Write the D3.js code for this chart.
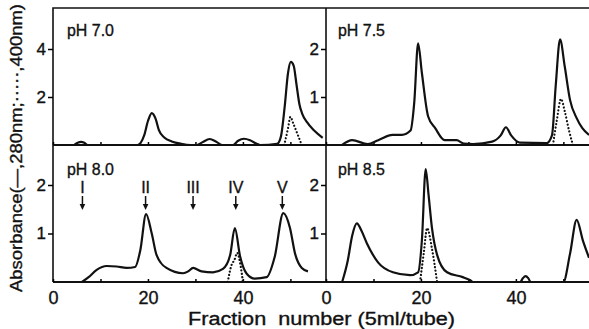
<!DOCTYPE html>
<html>
<head>
<meta charset="utf-8">
<script src="https://cdn.jsdelivr.net/npm/d3@7"></script>
<style>
body { margin: 0; background: #fff; }
text { font-family: "Liberation Sans", Arial, sans-serif; fill: #111; stroke: #111; stroke-width: 0.35px; }
</style>
</head>
<body>
<svg id="chart" width="589" height="329"></svg>
<script>
// DATA ------------------------------------
// [fraction, absorbance]
const ph70_280 = [[4.5,0],[5.2,0.09],[5.9,0.13],[6.6,0.09],[7.3,0],[17.8,0],[19.2,0.4],[20,1.0],[20.8,1.33],[21.6,1.1],[22.3,0.62],[23.5,0.3],[25,0.15],[27,0.05],[29,0],[30.3,0],[31.5,0.12],[33,0.25],[34.3,0.15],[35.6,0],[37.9,0],[39,0.18],[40.2,0.26],[41.5,0.2],[42.8,0.06],[43.6,0],[47.2,0.05],[48,0.35],[48.8,1.6],[49.5,3.0],[50.1,3.46],[50.7,3.3],[51.3,2.5],[51.9,1.7],[52.5,1.3],[53.5,0.95],[55,0.6],[56.8,0.3]]
const ph70_400 = [[48.7,0],[49.5,0.7],[50,1.17],[50.6,0.9],[51.5,0.45],[52.4,0]]

const ph75_280 = [[3.4,0],[5.5,0.1],[8.8,0.02],[11,0.1],[14,0.21],[16,0.21],[17.8,0.3],[18.6,0.9],[19.4,2.12],[20.2,1.5],[21.5,0.6],[23,0.35],[25,0.1],[27.5,0.1],[29,0.03],[31,0.02],[35,0.07],[36.8,0.2],[37.9,0.37],[39,0.2],[40.8,0.05],[46.5,0.04],[47.6,0.2],[48.4,1.25],[49.3,2.2],[50.3,1.63],[51.4,0.94],[52.8,0.56],[54,0.35],[55.4,0.21]]
const ph75_400 = [[47.8,0],[48.6,0.5],[49.5,0.96],[50.3,0.7],[51.2,0.3],[52,0]]

const ph80_280 = [[6.1,0],[7.5,0.1],[9.2,0.25],[11.3,0.33],[13.4,0.32],[15.5,0.29],[17.3,0.31],[18.4,0.66],[19.6,1.4],[20.8,1.0],[21.8,0.56],[23.9,0.29],[27.4,0.18],[28.5,0.22],[29.5,0.29],[31.3,0.22],[33.7,0.2],[35.8,0.27],[37.3,0.55],[38.3,1.11],[39.4,0.53],[40.8,0.17],[42.5,0.07],[45,0.1],[46.7,0.52],[48.5,1.42],[49.9,1.12],[51,0.58],[52.4,0.29],[53.7,0.22]]
const ph80_400 = [[36.8,0],[37.6,0.35],[38.2,0.45],[38.8,0.6],[39.4,0.4],[40,0]]

const ph85_280 = [[3.4,0],[4.6,0.45],[5.5,0.95],[6.5,1.21],[7.5,1.05],[8.6,0.8],[11,0.4],[14.1,0.2],[17.7,0.14],[19.4,0.2],[20.2,0.86],[21,2.33],[21.6,1.8],[22.3,1.13],[23.4,0.56],[25.5,0.2],[28.8,0.1],[30.3,0.04],[31,0],[40.9,0],[41.5,0.08],[42,0.12],[42.6,0.08],[43.1,0],[50,0],[51.4,0.58],[52.8,1.28],[54.1,0.86],[55.4,0.5]]
const ph85_400 = [[19.8,0],[20.6,0.6],[21.3,1.11],[22.3,0.7],[23.4,0]]

const romanLabels = ["I", "II", "III", "IV", "V"]
const romanFrac = [6.2, 19.5, 29.5, 38.5, 48.3]

const xTicks = [0, 10, 20, 30, 40, 50]
const xLabelled = [0, 20, 40]

// CHART INIT ------------------------------
const svg = d3.select("#chart")

const xLeft = d3.scaleLinear().domain([0, 57.5]).range([53, 326])
const xRight = d3.scaleLinear().domain([0, 55.4]).range([326, 589])
const yTopL = d3.scaleLinear().domain([0, 4]).range([145, 49])
const yTopR = d3.scaleLinear().domain([0, 2]).range([145, 49])
const yBot = d3.scaleLinear().domain([0, 2]).range([282, 185])

const panels = [
	{name: "pH 7.0", x: xLeft, y: yTopL, solid: ph70_280, dots: ph70_400, yTicks: [2, 4], base: 145, bottom: false},
	{name: "pH 7.5", x: xRight, y: yTopR, solid: ph75_280, dots: ph75_400, yTicks: [1, 2], base: 145, bottom: false},
	{name: "pH 8.0", x: xLeft, y: yBot, solid: ph80_280, dots: ph80_400, yTicks: [1, 2], base: 282, bottom: true},
	{name: "pH 8.5", x: xRight, y: yBot, solid: ph85_280, dots: ph85_400, yTicks: [1, 2], base: 282, bottom: true}
]

// frame
const frame = svg.append("g").attr("stroke", "#111").attr("fill", "none")
frame.append("path").attr("stroke-width", 1.6)
	.attr("d", "M53,282 V8 H589 M326,8 V282")
frame.append("path").attr("stroke-width", 2)
	.attr("d", "M53,145 H589 M53,282 H589")

panels.forEach(p => {
	let g = svg.append("g")

	// y axis
	let yAxis = d3.axisLeft(p.y).tickValues(p.yTicks).tickSize(5).tickPadding(2).tickFormat(d3.format("d"))
	g.append("g")
		.attr("transform", `translate(${p.x.range()[0]},0)`)
		.call(yAxis)
		.call(a => a.select(".domain").remove())
		.call(a => a.selectAll("line").attr("stroke-width", 1.5))
		.call(a => a.selectAll("text").attr("font-size", 17).attr("font-family", "Liberation Sans").attr("fill", "#111"))

	// x axis (ticks point up into the panel)
	let xAxis = d3.axisBottom(p.x).tickValues(xTicks).tickSizeInner(-3).tickSizeOuter(0).tickPadding(9)
		.tickFormat(d => p.bottom && xLabelled.includes(d) ? d : "")
	g.append("g")
		.attr("transform", `translate(0,${p.base})`)
		.call(xAxis)
		.call(a => a.select(".domain").remove())
		.call(a => a.selectAll("line").attr("stroke-width", 1.5))
		.call(a => a.selectAll("text").attr("font-size", 18).attr("font-family", "Liberation Sans").attr("fill", "#111"))

	let line = d3.line()
		.x(d => p.x(d[0]))
		.y(d => p.y(d[1]))
		.curve(d3.curveMonotoneX)

	g.append("path")
		.datum(p.solid)
		.attr("d", line)
		.attr("fill", "none")
		.attr("stroke", "#111")
		.attr("stroke-width", 2.2)
		.attr("stroke-linejoin", "round")

	g.append("path")
		.datum(p.dots)
		.attr("d", line)
		.attr("fill", "none")
		.attr("stroke", "#111")
		.attr("stroke-width", 2.2)
		.attr("stroke-linecap", "round")
		.attr("stroke-dasharray", "0.1,3.4")

	g.append("text")
		.attr("x", p.x.range()[0] + (p.x === xLeft ? 14 : 12))
		.attr("y", p.base === 145 ? 36 : 175)
		.attr("font-size", 17)
		.attr("textLength", 47)
		.attr("lengthAdjust", "spacingAndGlyphs")
		.text(p.name)
})

// peak markers in pH 8.0 panel
const marks = svg.append("g")
romanLabels.forEach((lab, i) => {
	let x = xLeft(romanFrac[i])
	marks.append("text")
		.attr("x", x)
		.attr("y", 193)
		.attr("text-anchor", "middle")
		.attr("font-family", "Liberation Serif")
		.attr("font-size", 16)
		.text(lab)
	marks.append("line")
		.attr("x1", x).attr("x2", x)
		.attr("y1", 196).attr("y2", 205)
		.attr("stroke", "#111").attr("stroke-width", 1.5)
	marks.append("path")
		.attr("d", `M${x - 2.8},204 L${x + 2.8},204 L${x},210 Z`)
		.attr("fill", "#111")
})

// axis titles
svg.append("text")
	.attr("transform", "translate(22,148) rotate(-90)")
	.attr("text-anchor", "middle")
	.attr("font-size", 17)
	.attr("textLength", 288)
	.attr("lengthAdjust", "spacingAndGlyphs")
	.text("Absorbance(—,280nm;·····,400nm)")

svg.append("text")
	.attr("x", 188)
	.attr("y", 325)
	.attr("font-size", 18)
	.attr("textLength", 267)
	.attr("lengthAdjust", "spacingAndGlyphs")
	.style("white-space", "pre")
	.text("Fraction  number (5ml/tube)")
</script>
</body>
</html>
